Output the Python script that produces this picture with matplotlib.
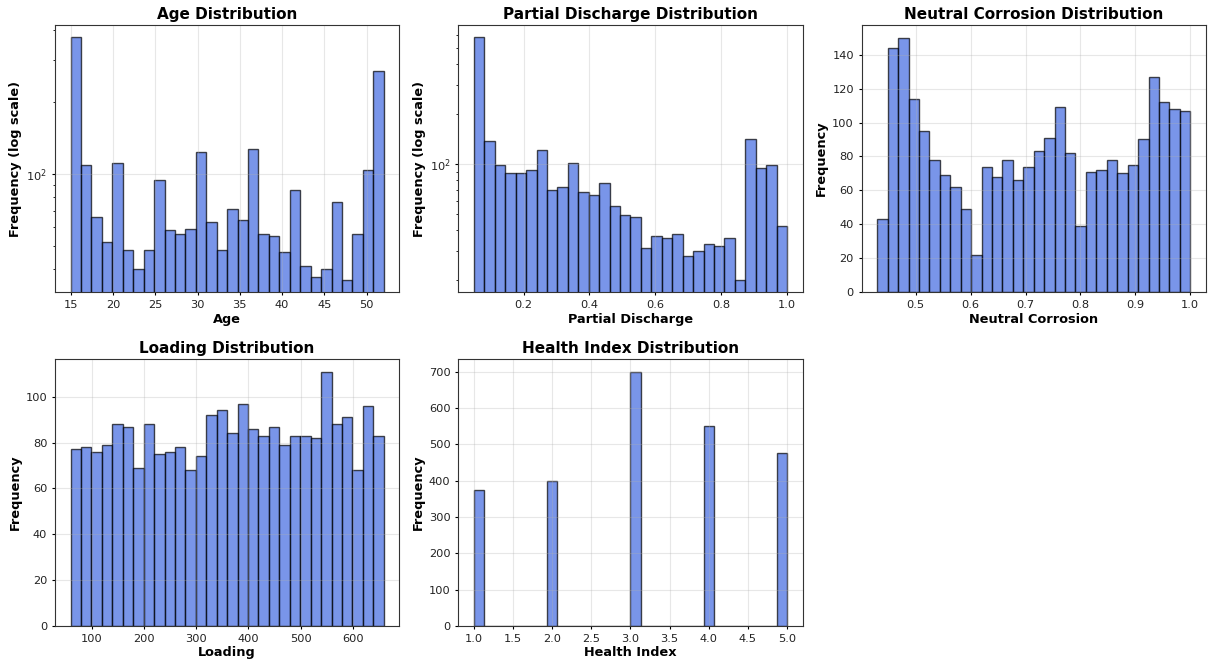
import numpy as np
import matplotlib
matplotlib.use("Agg")
import matplotlib.pyplot as plt

# ---- data (bin counts, 30 bins each) ----
age_range = (15, 52)
age_counts = [373, 109, 66, 52, 111, 48, 40, 48, 94, 58, 56, 59, 123, 63, 48,
              71, 64, 127, 56, 55, 47, 86, 41, 37, 40, 76, 36, 56, 104, 269]

pd_range = (0.049, 1.0)
pd_counts = [580, 138, 99, 88, 88, 92, 121, 70, 73, 101, 68, 65, 77, 56, 49,
             48, 31, 37, 36, 38, 28, 30, 33, 32, 36, 20, 141, 95, 98, 42]

nc_range = (0.43, 1.0)
nc_counts = [43, 144, 150, 114, 95, 78, 69, 62, 49, 22, 74, 68, 78, 66, 74,
             83, 91, 109, 82, 39, 71, 72, 78, 70, 75, 90, 127, 112, 108, 107]

load_range = (60, 659)
load_counts = [77, 78, 76, 79, 88, 87, 69, 88, 75, 76, 78, 68, 74, 92, 94,
               84, 97, 86, 83, 87, 79, 83, 83, 82, 111, 88, 91, 68, 96, 83]

hi_values = [1, 2, 3, 4, 5]
hi_counts = [375, 400, 700, 550, 475]

n_bins = 30

plt.rcParams['font.family'] = ['DejaVu Sans']

fig, axes = plt.subplots(2, 3, figsize=(12.08, 6.61), dpi=100)
fig.subplots_adjust(left=0.0455, right=0.9983, top=0.9622, bottom=0.053,
                    wspace=0.171, hspace=0.2495)

style = dict(color='royalblue', alpha=0.7, edgecolor='black', linewidth=1.0)
title_kw = dict(fontsize=11, fontweight='bold')
label_kw = dict(fontsize=9.3, fontweight='bold')


def binned(ax, rng, counts, log=False):
    edges = np.linspace(rng[0], rng[1], n_bins + 1)
    ax.hist(edges[:-1], bins=edges, weights=counts, log=log, **style)


panels = [
    (axes[0, 0], age_range, age_counts, True, 'Age', 'Frequency (log scale)'),
    (axes[0, 1], pd_range, pd_counts, True, 'Partial Discharge', 'Frequency (log scale)'),
    (axes[0, 2], nc_range, nc_counts, False, 'Neutral Corrosion', 'Frequency'),
    (axes[1, 0], load_range, load_counts, False, 'Loading', 'Frequency'),
]

for ax, rng, counts, log, name, ylab in panels:
    binned(ax, rng, counts, log)
    ax.set_title(f'{name} Distribution', **title_kw, pad=4)
    ax.set_xlabel(name, **label_kw, labelpad=2)
    ax.set_ylabel(ylab, **label_kw, labelpad=3)
    ax.grid(True, alpha=0.3)

ax = axes[1, 1]
ax.hist(hi_values, bins=n_bins, range=(1, 5), weights=hi_counts, **style)
ax.set_title('Health Index Distribution', **title_kw, pad=4)
ax.set_xlabel('Health Index', **label_kw, labelpad=2)
ax.set_ylabel('Frequency', **label_kw, labelpad=3)
ax.grid(True, alpha=0.3)

for ax in axes.flat:
    ax.tick_params(which='major', labelsize=8.2, length=2.5, pad=3,
                   labelcolor='#222222')
    ax.tick_params(which='minor', length=1.5)
    for s in ax.spines.values():
        s.set_color('#333333')

fig.delaxes(axes[1, 2])

fig.savefig('out.png', dpi=100)
